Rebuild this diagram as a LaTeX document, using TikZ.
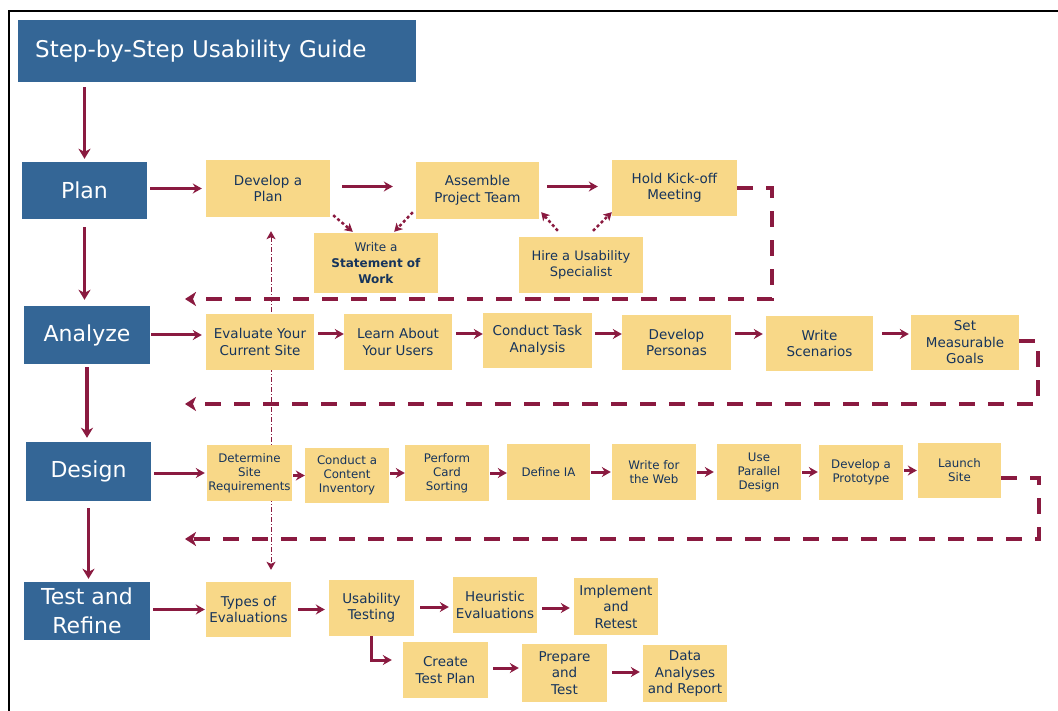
\documentclass[tikz,border=0pt]{standalone}
\usepackage{fontspec}
\setmainfont{DejaVu Sans}
\usetikzlibrary{arrows.meta,calc}
\definecolor{hdrblue}{RGB}{52,102,150}
\definecolor{boxyel}{RGB}{248,216,136}
\definecolor{maroonc}{RGB}{138,26,64}
\definecolor{navyc}{RGB}{22,52,92}
\pgfdeclarelayer{bg}
\pgfsetlayers{bg,main}
\begin{document}
\begin{tikzpicture}[x=1pt,y=-1pt,
  phase/.style={fill=hdrblue, text=white, inner sep=0pt, align=center, font=\fontsize{22}{29}\selectfont},
  ybox/.style={fill=boxyel, text=navyc, inner sep=0pt, align=center, font=\fontsize{13.5}{16.5}\selectfont},
  sbox/.style={ybox, font=\fontsize{11.8}{14}\selectfont},
  arr/.style={draw=maroonc, line width=3pt, -{Stealth[length=9pt,width=10pt,inset=3pt]}},
  varr/.style={draw=maroonc, line width=3.5pt, -{Stealth[length=10pt,width=12pt,inset=3pt]}},
  dotarr/.style={draw=maroonc, line width=2.5pt, dash pattern=on 3pt off 2.5pt, -{Stealth[length=8pt,width=9pt,inset=2pt]}},
  dashret/.style={draw=maroonc, line width=4pt, dash pattern=on 16pt off 13pt, -{Stealth[length=11pt,width=14pt,inset=3pt]}},
  thinarr/.style={draw=maroonc, line width=1pt, dash pattern=on 5pt off 2pt on 1pt off 2pt, {Stealth[length=8pt,width=9pt,inset=2pt]}-{Stealth[length=8pt,width=9pt,inset=2pt]}}
]
\useasboundingbox (0,0) rectangle (1058,711);
\begin{pgfonlayer}{bg}
\fill[white] (0,0) rectangle (1058,711);
\end{pgfonlayer}
\draw[line width=2.5pt] (1058,11) -- (9,11) -- (9,711);

% title
\node[fill=hdrblue, text=white, anchor=north west, minimum width=398pt, minimum height=62pt,
      text width=364pt, inner xsep=17pt, inner ysep=0pt, align=left, font=\fontsize{23}{28}\selectfont]
      (title) at (18,20) {Step-by-Step Usability Guide};

% phases
\node[phase, minimum width=125pt, minimum height=57pt] (plan) at (84.5,190.5) {Plan};
\node[phase, minimum width=126pt, minimum height=58pt] (analyze) at (87,335) {Analyze};
\node[phase, minimum width=125pt, minimum height=59pt] (design) at (88.5,471.5) {Design};
\node[phase, minimum width=126pt, minimum height=58pt] (test) at (87,611) {Test and\\Refine};

% row 1
\node[ybox, minimum width=124pt, minimum height=57pt] (dev) at (268,188.5) {Develop a\\Plan};
\node[ybox, minimum width=123pt, minimum height=57pt] (asm) at (477.5,190.5) {Assemble\\Project Team};
\node[ybox, minimum width=125pt, minimum height=56pt] (hold) at (674.5,188) {Hold Kick-off\\Meeting};
\node[ybox, minimum width=124pt, minimum height=60pt, font=\fontsize{12}{16}\selectfont] (sow) at (376,263) {Write a\\\textbf{Statement of}\\\textbf{Work}};
\node[ybox, minimum width=124pt, minimum height=56pt, font=\fontsize{13}{16.5}\selectfont] (hire) at (581,265) {Hire a Usability\\Specialist};

% row 2
\node[ybox, minimum width=108pt, minimum height=56pt] (eval) at (260,342) {Evaluate Your\\Current Site};
\node[ybox, minimum width=108pt, minimum height=56pt] (learn) at (398,342) {Learn About\\Your Users};
\node[ybox, minimum width=109pt, minimum height=55pt] (task) at (537.5,340.5) {Conduct Task\\Analysis};
\node[ybox, minimum width=109pt, minimum height=55pt] (pers) at (676.5,342.5) {Develop\\Personas};
\node[ybox, minimum width=107pt, minimum height=55pt] (scen) at (819.5,343.5) {Write\\Scenarios};
\node[ybox, minimum width=108pt, minimum height=55pt] (goals) at (965,342.5) {Set\\Measurable\\Goals};

% row 3
\node[sbox, minimum width=85pt, minimum height=56pt] (req) at (249.5,473) {Determine\\Site\\Requirements};
\node[sbox, minimum width=84pt, minimum height=55pt] (inv) at (347,475.5) {Conduct a\\Content\\Inventory};
\node[sbox, minimum width=84pt, minimum height=56pt] (card) at (447,473) {Perform\\Card\\Sorting};
\node[sbox, minimum width=83pt, minimum height=56pt] (ia) at (548.5,472) {Define IA};
\node[sbox, minimum width=84pt, minimum height=56pt] (web) at (654,472) {Write for\\the Web};
\node[sbox, minimum width=84pt, minimum height=56pt] (par) at (759,472) {Use\\Parallel\\Design};
\node[sbox, minimum width=84pt, minimum height=55pt] (proto) at (861,472.5) {Develop a\\Prototype};
\node[sbox, minimum width=83pt, minimum height=55pt] (launch) at (959.5,470.5) {Launch\\Site};

% row 4
\node[ybox, minimum width=85pt, minimum height=55pt] (types) at (248.5,609.5) {Types of\\Evaluations};
\node[ybox, minimum width=85pt, minimum height=56pt] (ut) at (371.5,608) {Usability\\Testing};
\node[ybox, minimum width=84pt, minimum height=56pt] (heur) at (495,605) {Heuristic\\Evaluations};
\node[ybox, minimum width=84pt, minimum height=57pt] (impl) at (616,606.5) {Implement\\and\\Retest};
\node[ybox, minimum width=85pt, minimum height=56pt] (ctp) at (445.5,670) {Create\\Test Plan};
\node[ybox, minimum width=85pt, minimum height=58pt] (prep) at (564.5,673) {Prepare\\and\\Test};
\node[ybox, minimum width=84pt, minimum height=57pt] (data) at (685,673.5) {Data\\Analyses\\and Report};

% vertical phase arrows
\draw[varr, shorten <=5pt, shorten >=3pt] (title.south -| plan.north) -- (plan.north);
\draw[varr, shorten <=8pt, shorten >=6pt] (plan.south) -- (plan.south |- analyze.north);
\draw[varr, shorten <=3pt, shorten >=4pt] (analyze.south) -- (analyze.south |- design.north);
\draw[varr, shorten <=7pt, shorten >=3pt] (design.south) -- (design.south |- test.north);

% phase -> first step
\draw[arr, shorten <=3pt, shorten >=4pt] (plan.east |- dev.west) -- (dev.west);
\draw[arr, shorten <=1pt, shorten >=4pt] (analyze.east) -- (analyze.east -| eval.west);
\draw[arr, shorten <=3pt, shorten >=2pt] (design.east |- req.west) -- (req.west);
\draw[arr, shorten <=3pt, shorten >=1pt] (test.east |- types.west) -- (types.west);

% row 1 arrows
\draw[arr, shorten <=12pt, shorten >=23pt] ($(dev.east)+(0,-2)$) -- ($(dev.east -| asm.west)+(0,-2)$);
\draw[arr, shorten <=8pt, shorten >=14pt] ($(asm.east)+(0,-4)$) -- ($(asm.east -| hold.west)+(0,-4)$);
\draw[dotarr] ($(dev.south east)+(3,-2)$) -- ($(sow.north west)+(39,-1)$);
\draw[dotarr] ($(asm.south west)+(-3,-7)$) -- ($(sow.north east)+(-44,-1)$);
\draw[dotarr] ($(hire.north west)+(39,-6)$) -- ($(asm.south east)+(2,-7)$);
\draw[dotarr] ($(hire.north)+(12,-6)$) -- ($(hold.south west)+(0,-4)$);

% row 2 arrows
\draw[arr, shorten <=4pt, shorten >=0pt] ($(eval.east)+(0,-8)$) -- ($(eval.east -| learn.west)+(0,-8)$);
\draw[arr, shorten <=4pt, shorten >=0pt] ($(learn.east)+(0,-8)$) -- ($(learn.east -| task.west)+(0,-8)$);
\draw[arr, shorten <=3pt, shorten >=0pt] ($(task.east)+(0,-6.5)$) -- ($(task.east -| pers.west)+(0,-6.5)$);
\draw[arr, shorten <=4pt, shorten >=3pt] ($(pers.east)+(0,-8.5)$) -- ($(pers.east -| scen.west)+(0,-8.5)$);
\draw[arr, shorten <=9pt, shorten >=2pt] ($(scen.east)+(0,-9.5)$) -- ($(scen.east -| goals.west)+(0,-9.5)$);

% row 3 arrows
\draw[arr, shorten <=1pt, shorten >=0pt] (req.east |- inv.west) -- (inv.west);
\draw[arr, shorten <=1pt, shorten >=0pt] (inv.east |- card.west) -- (card.west);
\draw[arr, shorten <=1pt, shorten >=0pt] (card.east) -- (card.east -| ia.west);
\draw[arr, shorten <=1pt, shorten >=1pt] (ia.east) -- (ia.east -| web.west);
\draw[arr, shorten <=1pt, shorten >=3pt] (web.east) -- (web.east -| par.west);
\draw[arr, shorten <=1pt, shorten >=1pt] (par.east) -- (par.east -| proto.west);
\draw[arr, shorten <=1pt, shorten >=1pt] (proto.east |- launch.west) -- (launch.west);

% row 4 arrows
\draw[arr, shorten <=7pt, shorten >=4pt] (types.east) -- (types.east -| ut.west);
\draw[arr, shorten <=6pt, shorten >=4pt] ($(ut.east)+(0,-1)$) -- ($(ut.east -| heur.west)+(0,-1)$);
\draw[arr, shorten <=5pt, shorten >=4pt] ($(heur.east)+(0,3)$) -- ($(heur.east -| impl.west)+(0,3)$);
\draw[arr, shorten >=11pt] (ut.south) |- ($(ctp.west)+(0,-10)$);
\draw[arr, shorten <=5pt, shorten >=3pt] ($(ctp.east)+(0,-2)$) -- ($(ctp.east -| prep.west)+(0,-2)$);
\draw[arr, shorten <=5pt, shorten >=3pt] ($(prep.east)+(0,-1)$) -- ($(prep.east -| data.west)+(0,-1)$);

% dashed return loops
\coordinate (c1) at (772,299);
\coordinate (c1e) at (185,299);
\draw[dashret] (hold.east) -| (c1) -- (c1e);
\coordinate (c2) at (1038,404);
\coordinate (c2e) at (185,404);
\draw[dashret] ($(goals.east)+(0,-1.5)$) -| (c2) -- (c2e);
\coordinate (c3) at (1039,539);
\coordinate (c3e) at (185,539);
\draw[dashret] ($(launch.east)+(0,7.5)$) -| (c3) -- (c3e);

% thin dash-dot link
\begin{pgfonlayer}{bg}
\draw[thinarr] ($(dev.south)+(3,14)$) -- ($(types.north)+(22.5,-12)$);
\end{pgfonlayer}
\end{tikzpicture}
\end{document}
